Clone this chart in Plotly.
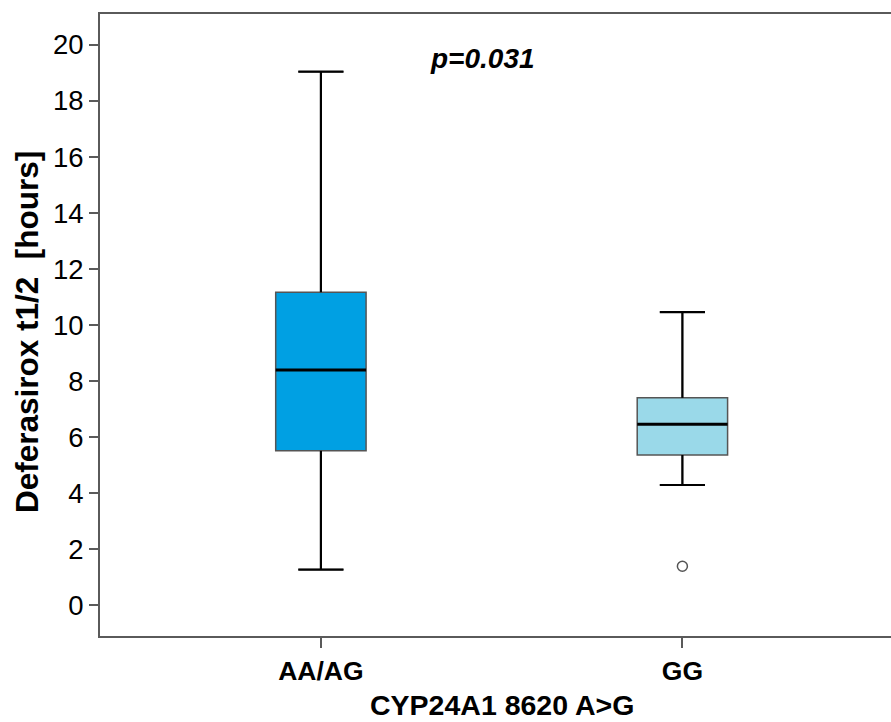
import plotly.graph_objects as go

categories = ["AA/AG", "GG"]
positions = [0, 1]
q1 = [5.51, 5.36]
median = [8.39, 6.46]
q3 = [11.17, 7.40]
lower_whisker = [1.27, 4.29]
upper_whisker = [19.04, 10.46]
outlier_x = [1]
outlier_y = [1.39]
fill_colors = ["#00A0E3", "#9AD9E9"]
y_ticks = list(range(0, 21, 2))
p_text = "p=0.031"
x_title = "CYP24A1 8620 A>G"
y_title = "Deferasirox t1/2  [hours]"

BOX_W = 0.25
CAP_W = 0.125
FONT = "Liberation Sans, Arial, sans-serif"

fig = go.Figure()
for i in range(len(categories)):
    p = positions[i]
    fig.add_trace(go.Box(
        x=[p], q1=[q1[i]], median=[median[i]], q3=[q3[i]],
        lowerfence=[lower_whisker[i]], upperfence=[upper_whisker[i]],
        width=BOX_W, whiskerwidth=0.5, fillcolor=fill_colors[i],
        line=dict(color="#555555", width=1.5), boxpoints=False,
        showlegend=False, hoverinfo="skip"))
    fig.add_trace(go.Scatter(x=[p - BOX_W / 2, p + BOX_W / 2], y=[median[i], median[i]],
                             mode="lines", line=dict(color="black", width=3),
                             showlegend=False, hoverinfo="skip"))
    wx = [p, p, None, p - CAP_W / 2, p + CAP_W / 2, None,
          p, p, None, p - CAP_W / 2, p + CAP_W / 2]
    wy = [q3[i], upper_whisker[i], None, upper_whisker[i], upper_whisker[i], None,
          q1[i], lower_whisker[i], None, lower_whisker[i], lower_whisker[i]]
    fig.add_trace(go.Scatter(x=wx, y=wy, mode="lines", line=dict(color="black", width=2.2),
                             showlegend=False, hoverinfo="skip", connectgaps=False))

fig.add_trace(go.Scatter(x=outlier_x, y=outlier_y, mode="markers",
                         marker=dict(symbol="circle-open", size=10, color="#555555",
                                     line=dict(width=1.5, color="#555555")),
                         showlegend=False, hoverinfo="skip"))

fig.add_annotation(x=0.447, y=19.5, text="<b><i>" + p_text + "</i></b>", showarrow=False,
                   font=dict(family=FONT, size=28, color="black"), xanchor="center", yanchor="middle")
fig.add_annotation(xref="paper", yref="paper", x=0.5076, y=-0.1383, text="<b>" + x_title + "</b>",
                   showarrow=False, font=dict(family=FONT, size=28.5, color="black"),
                   xanchor="center", yanchor="bottom", borderpad=0)
fig.add_annotation(xref="paper", yref="paper", x=-0.0923, y=0.4887, text="<b>" + y_title + "</b>",
                   showarrow=False, textangle=-90, font=dict(family=FONT, size=31.5, color="black"),
                   xanchor="center", yanchor="middle")

fig.update_layout(
    width=891, height=722,
    margin=dict(l=100, r=0, t=14, b=86),
    paper_bgcolor="white", plot_bgcolor="white",
    font=dict(family=FONT, color="black"),
    xaxis=dict(range=[-0.611, 1.577], tickmode="array", tickvals=positions,
               ticktext=["<b>" + c + "</b>" for c in categories],
               tickfont=dict(size=26.5, family=FONT, color="black"),
               showline=True, linecolor="#5a5a5a", linewidth=2, mirror=True,
               ticks="outside", ticklen=10, tickwidth=2, tickcolor="#5a5a5a",
               showgrid=False, zeroline=False, automargin=False),
    yaxis=dict(range=[-1.1, 21.1], tickmode="array", tickvals=y_ticks,
               tickfont=dict(size=27.5, family=FONT, color="black"),
               showline=True, linecolor="#5a5a5a", linewidth=2, mirror=False,
               ticks="outside", ticklen=9, tickwidth=2, tickcolor="#5a5a5a",
               showgrid=False, zeroline=False, automargin=False),
)

fig.write_html("out.html")
